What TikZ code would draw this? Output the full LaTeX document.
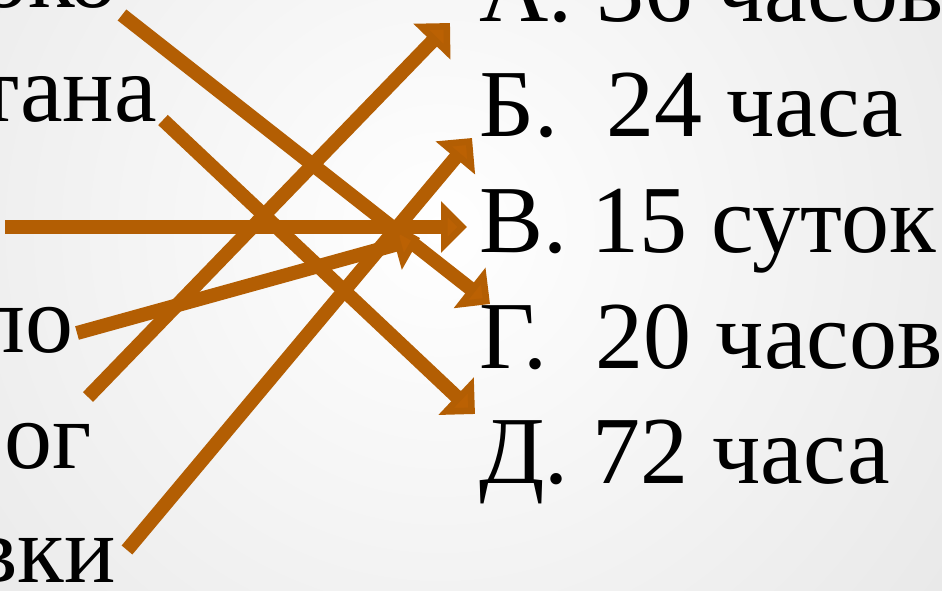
\documentclass[tikz,border=0pt]{standalone}
\usepackage{fontspec}
\setmainfont{Liberation Serif}
\newfontfamily\slidefont{Liberation Serif}
\usepackage{tikz}
\usetikzlibrary{arrows.meta,calc}
\definecolor{linkbrown}{RGB}{179,94,3}
\definecolor{slidegray}{RGB}{214,214,214}

\begin{document}
\begin{tikzpicture}[x=1pt, y=-1pt, every node/.style={font=\slidefont\fontsize{96}{110}\selectfont, inner sep=0pt},
  item/.style={anchor=base east}, answer/.style={anchor=base west},
  link/.style={line width=14pt, draw=linkbrown, -{Triangle[length=26pt,width=50pt,fill=linkbrown!90!orange]}}]
\useasboundingbox (0,0) rectangle (942,591);
\clip (0,0) rectangle (942,591);
\shade[inner color=white, outer color=slidegray] (440,230) circle (1150pt);
% left column
\node[item] (oko) at (118,8) {око};
\node[item] (tana) at (157,122) {тана};
\node[item] (lo) at (74,352) {ло};
\node[item] (og) at (92,468) {ог};
\node[item] (vki) at (116,582) {вки};
% right column
\node[answer] (a) at (479,22) {А. 36 часов};
\node[answer] (b) at (479,137) {Б.\ \ 24 часа};
\node[answer] (v) at (479,252) {В. 15 суток};
\node[answer] (g) at (479,368) {Г.\ \ 20 часов};
\node[answer] (d) at (479,483) {Д. 72 часа};
\coordinate (edge) at (5,227);
% arrows
\draw[link] ($(oko.base east)+(4,7)$) -- ($(g.base west)+(11,-64)$);
\draw[link] ($(tana.base east)+(6,-2)$) -- ($(d.base west)+(-4,-69)$);
\draw[link] (edge) -- ($(v.base west)+(-12,-25)$);
\draw[link] ($(lo.base east)+(3,-19)$) -- ($(v.base west)+(-59,-14)$);
\draw[link] ($(og.base east)+(-4,-71)$) -- ($(a.base west)+(-29,1)$);
\draw[link] ($(vki.base east)+(11,-32)$) -- ($(b.base west)+(-7,1)$);
\end{tikzpicture}
\end{document}
